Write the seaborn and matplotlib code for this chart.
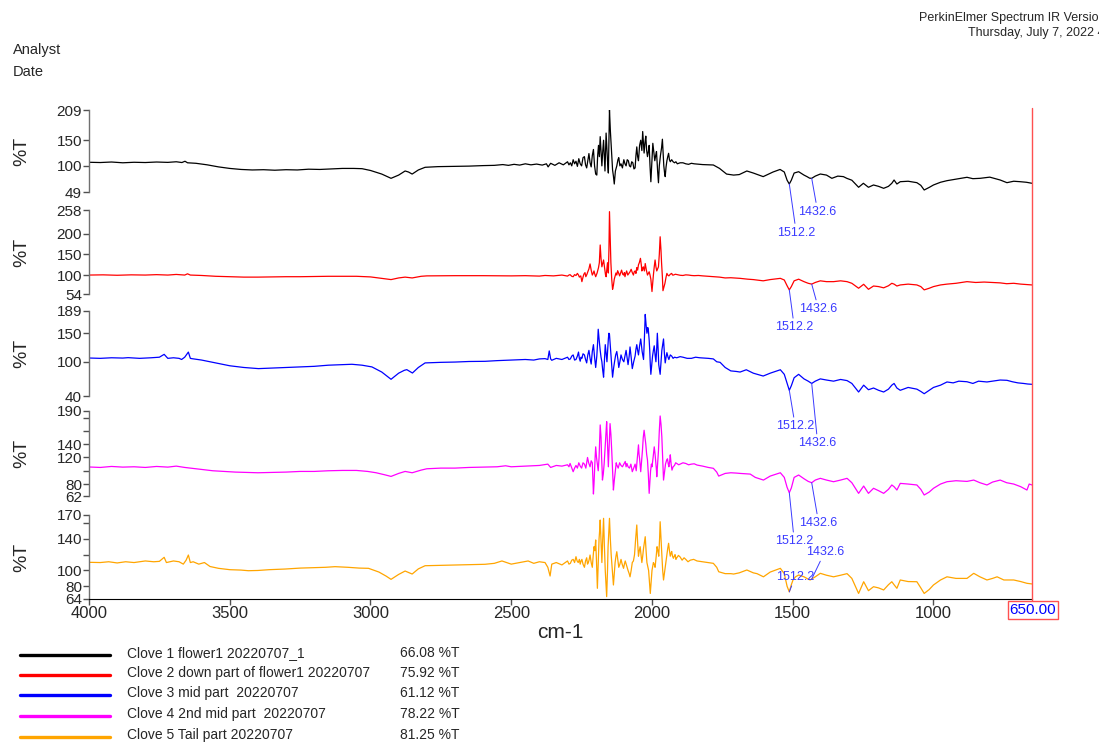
import numpy as np
import pandas as pd
import matplotlib.pyplot as plt
from matplotlib.lines import Line2D
import seaborn as sns

sns.set_style("white")
plt.rcParams['font.family'] = ['Liberation Sans', 'DejaVu Sans']

# spectra: (wavenumber cm-1, %T)
clove1 = [
    (4000, 107), (3960, 106.5), (3920, 107.5), (3880, 106), (3840, 107), (3800, 106.5),
    (3760, 107.5), (3720, 106.8), (3690, 108), (3670, 106.5), (3659, 109), (3650, 106),
    (3620, 105), (3580, 102), (3540, 98), (3500, 95), (3460, 93), (3420, 92), (3380, 92.5),
    (3340, 91.5), (3300, 92.5), (3260, 92), (3220, 93.5), (3180, 93), (3140, 94), (3100, 95),
    (3060, 95), (3030, 94.5), (3000, 91), (2960, 84), (2927, 75.7), (2900, 82), (2877, 90),
    (2865, 88), (2852, 84), (2830, 92), (2806, 97.2), (2760, 98.5), (2700, 99), (2650, 99.5),
    (2600, 100.5), (2560, 101), (2530, 102.5), (2510, 101), (2490, 103), (2470, 101.5),
    (2450, 104), (2430, 102), (2410, 103.5), (2390, 101.5), (2375, 104), (2369, 98),
    (2360, 105), (2345, 101), (2330, 106), (2315, 102),
    (2300, 108), (2295, 102), (2290, 106), (2285, 100), (2280, 112), (2275, 104), (2270, 109),
    (2265, 99), (2260, 114), (2255, 104), (2250, 100), (2245, 116), (2240, 118), (2236, 102),
    (2232, 96), (2228, 110), (2224, 124), (2220, 106), (2216, 98), (2212, 120), (2208, 132),
    (2204, 100), (2200, 84), (2196, 82), (2193, 120), (2190, 140), (2187, 118), (2184, 157),
    (2181, 130), (2178, 100), (2175, 128), (2172, 150), (2169, 112), (2167, 90), (2165, 130),
    (2163, 164), (2160, 130), (2158, 110), (2155, 86), (2153, 150), (2151, 209), (2148, 170),
    (2146, 150), (2143, 118), (2140, 92), (2137, 80), (2134, 64.6), (2130, 90), (2125, 100),
    (2121, 112), (2118, 116), (2114, 100), (2110, 104), (2105, 96), (2100, 112), (2096, 104),
    (2092, 100), (2088, 112), (2084, 110), (2080, 100), (2076, 98), (2072, 108), (2068, 106),
    (2064, 94), (2060, 96), (2057, 120), (2054, 137), (2051, 118), (2048, 110), (2044, 140),
    (2040, 150), (2036, 130), (2033, 167), (2030, 140), (2028, 125), (2025, 145), (2022, 158),
    (2019, 130), (2016, 118), (2013, 128), (2010, 140), (2007, 100), (2004, 69), (2000, 110),
    (1997, 144), (1993, 125), (1990, 110), (1987, 120), (1984, 128), (1980, 90), (1977, 67),
    (1974, 100), (1970, 120), (1966, 135), (1963, 152), (1960, 120), (1958, 100), (1955, 85),
    (1953, 79), (1950, 98), (1947, 110), (1944, 118), (1941, 124.5), (1938, 112), (1935, 108),
    (1930, 112), (1925, 108), (1920, 106), (1915, 108), (1910, 104), (1900, 106), (1890, 106),
    (1880, 104), (1870, 103), (1860, 105), (1850, 104),
    (1820, 102.5), (1800, 102), (1782, 101.7), (1760, 95), (1735, 84), (1710, 82), (1690, 83),
    (1663, 90), (1640, 86), (1605, 79), (1570, 88), (1545, 93), (1530, 88), (1520, 72),
    (1512.2, 64.6), (1505, 72), (1495, 86), (1479, 88.6), (1460, 82), (1449, 78.9),
    (1440, 76), (1432.6, 75.7), (1420, 80), (1402, 84.1), (1380, 82), (1361, 75.7),
    (1340, 80), (1320, 79), (1308, 75.7), (1290, 72), (1266, 58.2), (1249, 66), (1231, 58.2),
    (1213, 62.7), (1195, 60), (1177, 56.2), (1160, 60), (1148, 66), (1140, 72.4), (1130, 64.6),
    (1118, 69.1), (1090, 70), (1059, 67.2), (1045, 62), (1033, 52.9), (1015, 58), (1000, 62.7),
    (975, 68), (952, 71.1), (920, 74), (881, 77.7), (860, 75), (834, 75.7), (800, 78),
    (763, 72.4), (739, 67.2), (715, 70), (692, 69.1), (670, 68), (650, 66),
]

clove2 = [
    (4000, 100), (3950, 100.5), (3900, 99.5), (3850, 100.5), (3800, 100), (3760, 101),
    (3720, 100), (3690, 101.5), (3660, 100), (3650, 103), (3640, 100), (3600, 99), (3550, 97),
    (3500, 96), (3450, 95), (3400, 95), (3350, 95.5), (3300, 96), (3250, 96), (3200, 96.5),
    (3150, 97), (3100, 97), (3050, 97), (3000, 95.5), (2960, 92), (2927, 89), (2900, 93),
    (2877, 95), (2852, 93), (2820, 97), (2800, 98), (2700, 98.5), (2600, 98.5), (2500, 98),
    (2450, 98.5), (2400, 97.5), (2380, 99), (2350, 98), (2320, 100),
    (2300, 97.5), (2295, 100), (2291, 101), (2285, 97), (2280, 96), (2275, 101), (2270, 99),
    (2265, 104), (2261, 100), (2258, 95), (2253, 98), (2249, 84), (2245, 95), (2242, 102),
    (2238, 106), (2235, 96), (2231, 102), (2228, 108), (2224, 115), (2220, 127), (2216, 112),
    (2212, 100), (2209, 104), (2206, 110), (2203, 102), (2200, 96), (2195, 105), (2190, 118),
    (2187, 130), (2184, 173), (2181, 140), (2178, 120), (2175, 128), (2172, 136.6), (2169, 120),
    (2167, 110), (2165, 100), (2163, 96), (2160, 115), (2158, 130), (2156, 112), (2155, 105),
    (2153, 160), (2151, 254), (2148, 180), (2146, 130), (2143, 90), (2140, 65.4), (2137, 75),
    (2134, 90), (2131, 98), (2128, 105), (2125, 100), (2122, 110.6), (2118, 104), (2115, 98),
    (2111, 106), (2108, 112), (2104, 102), (2101, 100), (2098, 106), (2096, 96), (2093, 104),
    (2090, 110), (2086, 100), (2082, 104), (2078, 108), (2074, 114), (2070, 106), (2066, 100),
    (2063, 108), (2060, 110), (2057, 104), (2054, 118), (2051, 112), (2048, 125), (2045, 130),
    (2041, 140.6), (2038, 125), (2036, 110), (2033, 115), (2031, 120), (2027, 110), (2024, 128),
    (2020, 112), (2016, 100), (2013, 104), (2010, 108), (2007, 100), (2004, 90), (2002, 75),
    (2000, 60), (1997, 85), (1995, 100), (1992, 120), (1989, 136.6), (1986, 120), (1983, 110),
    (1980, 115), (1977, 120), (1974, 150), (1971, 193), (1968, 160), (1966, 130), (1963, 95),
    (1961, 62), (1958, 70), (1954, 80), (1950, 95), (1947, 104), (1944, 100), (1940, 98),
    (1935, 102), (1930, 104), (1927, 100), (1924, 100), (1917, 102), (1910, 101), (1900, 99.5),
    (1890, 99), (1880, 100.5), (1870, 100), (1860, 99), (1850, 98.5), (1835, 99),
    (1820, 98), (1800, 97), (1780, 96), (1760, 95), (1740, 93), (1720, 93.5), (1700, 92.5),
    (1687, 92), (1660, 90), (1640, 89), (1605, 86), (1580, 89), (1544, 92), (1530, 88),
    (1520, 74), (1512.2, 64), (1505, 72), (1495, 86), (1479, 90), (1460, 84), (1445, 80),
    (1432.6, 78), (1420, 82), (1402, 86), (1380, 84), (1355, 84), (1330, 86), (1307, 84),
    (1290, 80), (1266, 68), (1248, 77.6), (1231, 65.4), (1213, 73.4), (1195, 72), (1177, 69),
    (1160, 74), (1148, 80), (1140, 78), (1130, 73.4), (1118, 76), (1090, 78), (1059, 76),
    (1045, 72), (1033, 64), (1015, 68), (1000, 72), (975, 76), (952, 78), (920, 80),
    (881, 84), (850, 82), (820, 83), (790, 82), (763, 81), (740, 79), (715, 80), (690, 78),
    (670, 77), (650, 76),
]

clove3 = [
    (4000, 106.6), (3960, 106), (3920, 107), (3880, 106.5), (3861, 107.2), (3820, 106),
    (3780, 107), (3750, 108), (3733, 113), (3720, 106), (3700, 107), (3680, 106), (3671, 104),
    (3660, 108), (3647, 117), (3640, 106), (3635, 105.5), (3600, 103), (3560, 99), (3540, 97),
    (3500, 93), (3450, 90), (3398, 88), (3350, 89), (3300, 90), (3250, 91), (3200, 92),
    (3150, 94), (3100, 95), (3066, 95.6), (3030, 94), (2995, 91), (2960, 82), (2927, 69.3),
    (2900, 80), (2880, 85), (2871, 86.2), (2851, 80.3), (2830, 90), (2806, 98), (2750, 99),
    (2700, 99.5), (2650, 100.5), (2593, 100.8), (2550, 102), (2500, 103), (2450, 104),
    (2420, 103), (2400, 105), (2380, 105.5), (2370, 104), (2365, 119), (2360, 105),
    (2356, 102.6), (2340, 106), (2320, 104),
    (2300, 108), (2295, 104), (2290, 105), (2285, 110), (2280, 112), (2275, 103), (2270, 104),
    (2265, 110), (2261, 117), (2258, 106), (2255, 101), (2252, 108), (2249, 106), (2245, 114),
    (2240, 112), (2236, 104), (2232, 98), (2228, 112), (2224, 120), (2220, 106), (2216, 96),
    (2212, 118), (2208, 130), (2204, 108), (2200, 90), (2198, 100), (2196, 110), (2193, 135),
    (2191, 157), (2188, 140), (2184, 120), (2181, 108), (2178, 100), (2175, 85), (2172, 73),
    (2169, 100), (2166, 130), (2163, 115), (2160, 100), (2157, 125), (2155, 140), (2153, 150),
    (2151, 148), (2148, 128), (2145, 110), (2142, 88), (2140, 73), (2136, 90), (2133, 100),
    (2129, 112), (2125, 118), (2121, 104), (2118, 90), (2114, 100), (2110, 112), (2105, 104),
    (2100, 100), (2096, 110), (2092, 120), (2088, 106), (2085, 95), (2081, 110), (2078, 126),
    (2074, 108), (2070, 88), (2065, 100), (2060, 110), (2057, 122), (2054, 130), (2051, 120),
    (2048, 112), (2044, 128), (2040, 140), (2035, 118), (2030, 104), (2027, 140), (2024, 183),
    (2021, 165), (2018, 150), (2015, 160), (2013, 156), (2010, 138), (2008, 120), (2006, 95),
    (2004, 78), (2001, 95), (1998, 110), (1995, 120), (1992, 128), (1989, 112), (1986, 100),
    (1983, 125), (1981, 150), (1978, 120), (1976, 95), (1973, 85), (1971, 78), (1968, 100),
    (1965, 120), (1962, 130), (1959, 140), (1956, 115), (1953, 98), (1950, 108), (1947, 116),
    (1943, 108), (1940, 104), (1935, 112), (1930, 110), (1925, 106), (1920, 108), (1912, 107),
    (1900, 109), (1890, 108), (1875, 106), (1860, 106), (1845, 108), (1830, 107), (1800, 106),
    (1782, 105), (1770, 100), (1758, 99), (1740, 90), (1720, 84), (1700, 83), (1687, 82),
    (1665, 86), (1640, 80), (1605, 75), (1580, 80), (1544, 86), (1530, 78), (1520, 62),
    (1512.2, 50), (1505, 58), (1495, 72), (1479, 78), (1460, 70), (1445, 66), (1432.6, 62),
    (1420, 66), (1402, 70), (1380, 68), (1355, 66), (1330, 69), (1307, 67), (1290, 62),
    (1266, 47), (1248, 59), (1231, 51), (1213, 54), (1195, 50), (1177, 47), (1160, 52),
    (1148, 59), (1140, 62), (1130, 54), (1118, 50), (1090, 55), (1059, 52), (1045, 48),
    (1033, 44), (1015, 50), (1000, 55), (975, 59), (952, 64.6), (930, 63), (910, 66),
    (881, 65), (860, 62), (840, 66), (810, 64.6), (790, 66), (763, 68), (739, 67.5),
    (720, 65), (700, 63), (680, 62), (665, 61), (650, 60.5),
]

clove4 = [
    (4000, 105.7), (3960, 105), (3920, 106.5), (3880, 105.5), (3840, 106), (3800, 105),
    (3760, 106.5), (3720, 105.5), (3690, 107), (3660, 105), (3640, 104), (3600, 102),
    (3560, 100), (3520, 99), (3480, 98), (3440, 97.5), (3400, 97), (3350, 97.5), (3300, 98),
    (3250, 99), (3200, 99), (3150, 100), (3100, 100.5), (3050, 100.5), (3010, 99), (2980, 97),
    (2950, 94), (2927, 91.5), (2900, 96), (2877, 99), (2852, 97), (2820, 101), (2800, 103),
    (2750, 104), (2700, 104), (2650, 105), (2600, 105.5), (2550, 106), (2520, 107.5),
    (2500, 106), (2450, 107), (2400, 108), (2370, 110), (2360, 105), (2340, 108), (2320, 107),
    (2300, 109), (2295, 106), (2291, 111), (2285, 104), (2280, 98.6), (2275, 104), (2270, 108),
    (2265, 104), (2260, 112), (2255, 107), (2250, 104), (2245, 112), (2240, 110), (2235, 104),
    (2229, 120), (2225, 112), (2220, 106), (2216, 115), (2212, 112), (2210, 90), (2208, 65),
    (2206, 80), (2204, 100), (2202, 120), (2200, 136), (2197, 120), (2194, 110), (2191, 100),
    (2188, 120), (2186, 145), (2184, 169), (2181, 150), (2179, 120), (2177, 100), (2176, 86),
    (2173, 95), (2170, 110), (2168, 125), (2166, 140), (2163, 160), (2161, 174), (2158, 140),
    (2155, 106), (2152, 140), (2149, 171), (2146, 155), (2143, 130), (2140, 100), (2137, 71),
    (2134, 85), (2130, 100), (2127, 112), (2125, 108.7), (2120, 104), (2115, 112), (2110, 108),
    (2105, 106), (2100, 110), (2095, 114), (2092, 106), (2089, 111), (2085, 106), (2080, 104),
    (2075, 110), (2070, 98.6), (2065, 104), (2060, 110), (2056, 100), (2052, 120), (2048, 139),
    (2046, 125), (2044, 118), (2042, 108), (2040, 98.6), (2037, 115), (2034, 130), (2031, 150),
    (2028, 161), (2025, 150), (2022, 140), (2019, 125), (2016, 116), (2013, 95), (2010, 66),
    (2007, 85), (2005, 100), (2002, 110), (2000, 106), (1996, 120), (1992, 136), (1989, 125),
    (1986, 110), (1984, 100), (1983, 91), (1980, 110), (1977, 130), (1974, 160), (1971, 182.5),
    (1968, 170), (1965, 151), (1962, 120), (1959, 86), (1955, 100), (1952, 110), (1948, 116),
    (1945, 118), (1942, 110), (1940, 106), (1937, 115), (1935, 124), (1932, 110), (1929, 101),
    (1925, 106), (1920, 108), (1916, 112), (1912, 111), (1905, 109), (1900, 110), (1890, 112),
    (1880, 111), (1870, 109), (1860, 110), (1850, 110.5), (1840, 108.6),
    (1820, 107), (1800, 105), (1782, 103.7), (1770, 98), (1763, 92), (1740, 96), (1720, 97),
    (1700, 96.5), (1687, 96), (1651, 95), (1633, 90), (1604, 86), (1580, 92), (1544, 97),
    (1530, 90), (1520, 75), (1512.2, 67), (1505, 74), (1495, 90), (1479, 93.6), (1460, 88),
    (1445, 84), (1432.6, 82), (1420, 86), (1402, 88.6), (1380, 86), (1355, 83.5), (1330, 86),
    (1307, 88.6), (1290, 82), (1266, 66), (1248, 77), (1231, 66), (1213, 73.6), (1195, 70),
    (1177, 66), (1160, 72), (1148, 78.6), (1140, 76), (1130, 71), (1118, 81), (1090, 80),
    (1059, 78.6), (1045, 72), (1033, 63.5), (1015, 68), (1000, 73.6), (975, 80), (952, 83.5),
    (920, 85), (881, 84), (857, 86), (835, 82), (810, 78.6), (790, 83), (763, 86), (740, 82),
    (715, 80), (690, 76), (668, 71), (660, 80), (650, 78.6),
]

clove5 = [
    (4000, 110.3), (3960, 110), (3930, 111), (3900, 109.5), (3870, 111), (3840, 110),
    (3800, 112), (3770, 111), (3750, 111.5), (3733, 116.6), (3725, 110), (3700, 112),
    (3680, 111), (3665, 108), (3655, 113), (3647, 119.5), (3640, 110), (3630, 111),
    (3610, 108), (3600, 109), (3590, 110), (3570, 105), (3540, 102.7), (3500, 101),
    (3460, 100.5), (3434, 99.7), (3400, 100), (3360, 101), (3304, 101.8), (3250, 103),
    (3200, 103.5), (3160, 104), (3126, 104.8), (3080, 104), (3040, 103), (3007, 102.7),
    (2970, 98), (2945, 93), (2927, 88.8), (2900, 95), (2877, 99.3), (2852, 95.5), (2830, 102),
    (2806, 106), (2750, 106.5), (2700, 107), (2650, 107.3), (2593, 107.8), (2560, 109),
    (2533, 112), (2500, 108), (2470, 110), (2440, 112), (2420, 109), (2400, 111), (2380, 110),
    (2370, 104), (2362, 93), (2356, 108), (2340, 110), (2320, 107),
    (2300, 112), (2295, 108), (2290, 109), (2285, 113), (2280, 114), (2275, 110),
    (2270, 117.4), (2266, 112), (2262, 110), (2258, 114), (2255, 108), (2252, 112),
    (2249, 114), (2245, 108), (2240, 104), (2236, 112), (2232, 116), (2229, 108), (2226, 110),
    (2223, 114), (2220, 119.5), (2216, 110), (2212, 104), (2209, 118), (2206, 130),
    (2203, 125), (2200, 138.5), (2197, 110), (2194, 77.5), (2191, 110), (2188, 140),
    (2186, 150), (2184, 163.7), (2181, 135), (2178, 110), (2175, 140), (2172, 165.8),
    (2169, 130), (2166, 100), (2163, 80), (2161, 67), (2158, 100), (2156, 130), (2153, 150),
    (2151, 165.8), (2148, 140), (2145, 120), (2141, 100), (2137, 81.7), (2134, 95),
    (2131, 110), (2128, 118), (2125, 123.7), (2121, 112), (2118, 104), (2114, 108),
    (2110, 114), (2106, 108), (2101, 102.7), (2098, 108), (2095, 112), (2090, 106),
    (2085, 100), (2081, 96), (2078, 92), (2074, 100), (2070, 110), (2066, 112), (2062, 120),
    (2058, 140), (2054, 157.4), (2051, 135), (2048, 118), (2045, 125), (2042, 130),
    (2039, 120), (2036, 110), (2033, 118), (2030, 128), (2027, 135), (2024, 142.6),
    (2021, 125), (2018, 110), (2015, 105), (2012, 100), (2009, 85), (2006, 71), (2003, 85),
    (2000, 100), (1997, 106), (1995, 110), (1992, 108), (1989, 104), (1985, 118), (1982, 130),
    (1979, 125), (1976, 118), (1973, 140), (1971, 161.5), (1968, 140), (1965, 120),
    (1962, 100), (1959, 88), (1956, 96), (1953, 104), (1950, 112), (1947, 120), (1944, 128),
    (1941, 134.3), (1938, 125), (1935, 118), (1932, 122), (1930, 124), (1927, 118),
    (1924, 115.4), (1921, 118), (1918, 120), (1915, 114), (1912, 116), (1906, 119),
    (1900, 117), (1893, 113), (1886, 116), (1880, 114), (1872, 111), (1864, 113), (1852, 114),
    (1840, 112), (1820, 111), (1800, 110),
    (1782, 109), (1770, 104), (1763, 98.4), (1740, 96), (1720, 96), (1710, 95.5), (1690, 97),
    (1663, 100.6), (1640, 97), (1627, 96), (1604, 92), (1580, 98), (1544, 102.7), (1530, 96),
    (1520, 80), (1512.2, 73), (1505, 82), (1499, 88), (1490, 92), (1479, 94.3), (1460, 92),
    (1445, 89), (1438, 88), (1420, 92), (1402, 96.4), (1380, 94), (1355, 92), (1330, 94),
    (1307, 96), (1290, 90), (1266, 71), (1248, 85.8), (1231, 74.5), (1213, 79.5), (1195, 78),
    (1177, 75.4), (1160, 82), (1148, 85.8), (1140, 82), (1130, 77.5), (1118, 88), (1090, 86),
    (1059, 85.8), (1045, 78), (1033, 71), (1015, 76), (1000, 81.7), (975, 88), (952, 92),
    (920, 90), (881, 90), (857, 96.4), (835, 92), (810, 88), (790, 90), (774, 92), (750, 88),
    (715, 88), (690, 86), (668, 83.8), (650, 83),
]

names = ["Clove 1 flower1 20220707_1", "Clove 2 down part of flower1 20220707",
         "Clove 3 mid part  20220707", "Clove 4 2nd mid part  20220707",
         "Clove 5 Tail part 20220707"]
cursor_vals = ["66.08 %T", "75.92 %T", "61.12 %T", "78.22 %T", "81.25 %T"]
colors = ["#000000", "#ff0000", "#0000ff", "#ff00ff", "#ffa500"]
spectra = [clove1, clove2, clove3, clove4, clove5]

ylims = [(49, 209), (54, 258), (40, 189), (62, 190), (64, 170)]
yticks = [[49, 100, 150, 209], [54, 100, 150, 200, 258], [40, 100, 150, 189],
          [62, 80, 100, 120, 140, 160, 180, 190], [64, 80, 100, 120, 140, 160, 170]]
ytick_labels = [["49", "100", "150", "209"], ["54", "100", "150", "200", "258"],
                ["40", "100", "150", "189"], ["62", "80", "", "120", "140", "", "", "190"],
                ["64", "80", "100", "", "140", "", "170"]]
peaks = [1512.2, 1432.6]

W, H = 1099, 744
fig = plt.figure(figsize=(W / 100, H / 100), dpi=100)

# panel extents in pixels (top, bottom)
panel_px = [(110, 192), (210, 294), (311, 396), (411, 496), (515, 599)]
x_left, x_right = 89, 1032
# label offsets (points) for the 1512.2 / 1432.6 callouts in each panel
label_offsets = [
    [(5, -35), (4.3, -24)],
    [(3.6, -27), (5, -18)],
    [(4.3, -26), (4.3, -43)],
    [(3.6, -35), (5, -29)],
    [(4.3, 11), (9.4, 19.5)],
]
ann_color = "#3a3aff"

for i, spec in enumerate(spectra):
    top, bot = panel_px[i]
    ax = fig.add_axes([x_left / W, 1 - bot / H, (x_right - x_left) / W, (bot - top) / H])
    ax.set_facecolor("none")
    df = pd.DataFrame(spec, columns=["wn", "T"])
    sns.lineplot(data=df, x="wn", y="T", ax=ax, color=colors[i], linewidth=0.9,
                 estimator=None, sort=False)
    ax.set_xlim(4000, 650)
    ax.set_ylim(*ylims[i])
    ax.set_yticks(yticks[i], ytick_labels[i])
    ax.set_xlabel("")
    ax.set_ylabel("")
    for s in ["top", "right"]:
        ax.spines[s].set_visible(False)
    ax.spines["left"].set_color("#707070")
    ax.spines["left"].set_linewidth(1)
    ax.tick_params(axis="y", direction="out", length=4, width=1, color="#505050",
                   labelsize=11, pad=1, left=True)
    if i < 4:
        ax.spines["bottom"].set_visible(False)
        ax.set_xticks([])
    else:
        ax.spines["bottom"].set_color("black")
        ax.set_xticks([4000, 3500, 3000, 2500, 2000, 1500, 1000])
        ax.tick_params(axis="x", direction="out", length=4, width=1, color="#505050",
                       labelsize=12, pad=1, bottom=True)
    fig.text(22 / W, 1 - (top + bot) / 2 / H, "%T", rotation=90, fontsize=14,
             ha="center", va="center")
    wn_arr = df["wn"].to_numpy()[::-1]
    t_arr = df["T"].to_numpy()[::-1]
    for p, off in zip(peaks, label_offsets[i]):
        yv = np.interp(p, wn_arr, t_arr)
        ax.annotate(f"{p:.1f}", xy=(p, yv), xytext=off, textcoords="offset points",
                    ha="center", va="center", color=ann_color, fontsize=9,
                    annotation_clip=False,
                    arrowprops=dict(arrowstyle="-", color=ann_color, lw=0.7,
                                    shrinkA=0, shrinkB=0))

fig.text(560 / W, 1 - 633 / H, "cm-1", fontsize=15, ha="center", va="center")

# cursor line at 650 cm-1
fig.add_artist(Line2D([x_right / W, x_right / W], [1 - 108 / H, 1 - 601 / H],
                      color="#ff5050", lw=1))
fig.text(1033 / W, 1 - 610 / H, "650.00", fontsize=11, color="#0000ff",
         ha="center", va="center",
         bbox=dict(boxstyle="square,pad=0.12", fc="white", ec="#ff5050", lw=1))

# header (cut at the right edge, as on the print-out)
fig.text(919 / W, 1 - 18 / H, "PerkinElmer Spectrum IR Versio", fontsize=9, va="center")
fig.text(968 / W, 1 - 33 / H, "Thursday, July 7, 2022 4", fontsize=9, va="center")
fig.text(13 / W, 1 - 50 / H, "Analyst", fontsize=10.5, va="center")
fig.text(13 / W, 1 - 72 / H, "Date", fontsize=10.5, va="center")

# legend table
rows_y = [655, 675, 695, 716, 737]
for name, val, c, ry in zip(names, cursor_vals, colors, rows_y):
    fig.add_artist(Line2D([20 / W, 110 / W], [1 - ry / H, 1 - ry / H], color=c, lw=2.4))
    fig.text(127 / W, 1 - (ry - 2) / H, name, fontsize=10, va="center")
    fig.text(400 / W, 1 - (ry - 2) / H, val, fontsize=10, va="center")

fig.savefig("out.png", dpi=100)
